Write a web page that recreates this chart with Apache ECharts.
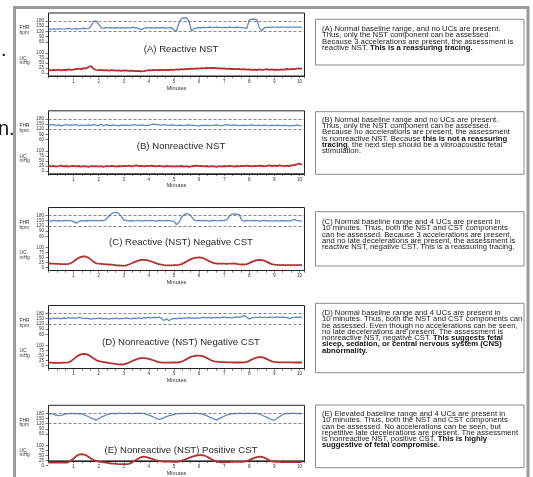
<!DOCTYPE html>
<html><head><meta charset="utf-8">
<script src="https://cdn.jsdelivr.net/npm/echarts@6/dist/echarts.min.js"></script>
<style>html,body{margin:0;padding:0;background:#fff}#c{width:533px;height:477px}</style>
</head><body><div id="c"></div>
<script>
// ---------- DATA ----------
const sampleStepMinutes = 0.1;
const minuteLabels = [1,2,3,4,5,6,7,8,9,10];
const fhrTicks = [60,90,120,150,180,200];
const fhrNormalLines = [180,120];
const ucTicks = [0,25,50,75,100];

const chartTitles = ['(A) Reactive NST','(B) Nonreactive NST','(C) Reactive (NST) Negative CST','(D) Nonreactive (NST) Negative CST','(E) Nonreactive (NST) Positive CST'];

const fhrA = [134,132,135,133,136,134,133,135,137,134, 133,136,134,135,138,136,137,152,178,180, 162,140,139,141,140,142,139,141,140,141, 139,142,140,141,143,140,136,130,137,141, 140,142,139,141,140,142,141,139,140,141, 128,122,170,195,198,197,176,122,134,140, 142,141,143,142,144,143,142,144,143,142, 143,142,144,143,142,144,143,142,140,136, 186,190,190,188,140,124,141,143,144,143, 144,144,143,144,144,143,144,144,143,144, 144,143];
const ucA = [15,13,16,14,17,13,16,15,18,16, 17,20,22,19,24,22,30,34,20,16, 14,15,13,14,12,14,13,12,13,11, 13,12,11,12,10,9,10,8,9,12, 14,13,15,14,16,15,14,16,15,17, 16,18,17,19,18,20,21,22,21,23, 22,24,23,25,24,26,25,23,24,22, 23,21,22,20,21,19,20,18,19,17, 18,16,17,15,18,16,17,19,16,18, 15,17,16,18,17,20,18,21,19,22, 23,21];

const fhrB = [146,143,148,141,145,139,144,147,142,145, 143,146,141,144,140,143,145,142,146,143, 141,150,138,147,143,140,145,142,139,144, 142,145,141,143,146,144,142,145,143,141, 144,146,149,147,145,143,146,144,142,145, 143,141,144,142,140,143,145,142,144,141, 138,143,141,144,142,140,143,145,142,141, 143,146,144,142,145,143,140,142,144,141, 143,145,142,140,143,141,144,142,139,143, 141,144,142,140,143,141,138,142,140,143, 141,139];
const ucB = [24,22,25,21,23,26,22,24,21,23, 25,22,24,21,23,22,20,24,22,23, 21,23,20,24,22,25,23,21,24,22, 25,23,26,22,24,27,23,25,22,24, 23,26,24,22,25,23,21,24,22,23, 21,23,22,24,21,23,20,22,24,26, 23,25,22,24,21,23,22,20,23,21, 24,22,25,23,21,24,22,25,23,26, 24,22,25,23,26,24,22,25,27,24, 26,24,27,25,23,26,24,27,29,32, 36,30];

const fhrC = [150,148,152,149,151,147,150,152,149,151, 146,136,144,150,148,151,149,152,150,151, 149,152,150,158,175,190,196,197,192,175, 155,150,148,151,149,150,152,148,150,151, 149,152,150,148,151,150,149,152,150,148, 148,128,140,170,185,191,188,172,155,150, 152,149,151,150,148,151,152,149,150,151, 150,155,175,187,189,188,185,152,148,151, 150,149,151,150,148,150,151,149,150,148, 149,150,148,151,149,150,148,153,156,150, 149,148];
const ucC = [20,19,19,18,18,17,17,17,18,22, 30,40,48,53,55,54,48,38,28,21, 19,18,17,16,15,14,13,11,10,9, 9,11,15,20,26,31,35,38,38,37, 34,30,26,21,17,14,12,11,11,11, 12,12,13,17,23,30,37,43,47,49, 50,49,45,39,32,26,22,20,19,19, 19,18,19,19,20,18,16,15,15,17, 22,28,33,37,38,37,34,28,22,17, 14,13,12,12,12,12,12,12,12,12, 12,12];

const fhrD = [152,148,155,150,153,149,154,151,156,153, 155,152,157,154,150,153,151,148,152,150, 153,151,149,152,148,151,150,153,149,152, 150,154,152,149,153,151,155,152,156,154, 157,155,158,156,159,153,140,150,138,148, 152,149,153,151,155,153,156,154,152,155, 153,156,158,155,157,154,156,158,155,157, 159,156,158,155,157,160,158,162,168,158, 148,155,158,157,159,156,158,157,159,157, 158,160,157,159,158,156,150,156,158,159, 158,159];
const ucD = [14,14,13,13,13,13,14,14,16,22, 32,42,51,56,58,57,52,44,35,27, 22,19,17,15,13,11,9,7,6,5, 6,9,14,20,26,31,35,37,37,36, 33,29,25,21,17,15,14,14,14,15, 15,15,16,19,25,32,39,44,47,49, 49,48,44,38,31,25,21,19,18,17, 17,16,16,16,15,15,15,15,16,18, 23,30,36,40,42,42,38,32,26,21, 18,17,16,16,16,16,16,16,15,15, 15,15];

const fhrE = [178,177,174,170,167,168,172,176,178,179, 178,179,177,178,173,166,160,153,146,140, 150,158,164,170,175,178,179,178,180,179, 178,179,180,178,179,180,179,180,178,174, 169,163,157,151,145,148,155,161,166,170, 173,176,178,179,178,180,179,178,180,179, 178,177,172,166,159,152,146,142,149,156, 163,169,174,177,179,178,180,179,178,180, 179,178,180,179,176,170,163,156,149,143, 141,150,160,170,177,179,178,180,179,178, 179,178];
const ucE = [13,13,13,13,13,13,13,14,16,24, 34,45,53,56,55,50,42,33,26,22, 19,17,15,13,11,9,8,7,6,6, 6,6,7,12,20,28,35,41,43,41, 37,33,29,25,22,20,19,18,18,17, 17,17,18,22,27,32,37,42,46,49, 51,51,49,44,37,30,24,19,16,15, 15,16,16,17,17,17,17,17,18,21, 26,32,37,41,43,42,38,32,25,20, 18,17,17,16,16,16,16,16,16,16, 16,16];

const notesA = '(A) Normal baseline range, and no UCs are present.\nThus, only the NST component can be assessed.\nBecause 3 accelerations are present, the assessment is\nreactive NST. {b|This is a reassuring tracing.}';
const notesB = '(B) Normal baseline range and no UCs are present.\nThus, only the NST component can be assessed.\nBecause no accelerations are present, the assessment\nis nonreactive NST. Because {b|this is not a reassuring}\n{b|tracing}, the next step should be a vibroacoustic fetal\nstimulation.';
const notesC = '(C) Normal baseline range and 4 UCs are present in\n10 minutes. Thus, both the NST and CST components\ncan be assessed. Because 3 accelerations are present,\nand no late decelerations are present, the assessment is\nreactive NST, negative CST. This is a reassuring tracing.';
const notesD = '(D) Normal baseline range and 4 UCs are present in\n10 minutes. Thus, both the NST and CST components can\nbe assessed. Even though no accelerations can be seen,\nno late decelerations are present. The assessment is\nnonreactive NST, negative CST. {b|This suggests fetal}\n{b|sleep, sedation, or central nervous system (CNS)}\n{b|abnormality.}';
const notesE = '(E) Elevated baseline range and 4 UCs are present in\n10 minutes. Thus, both the NST and CST components\ncan be assessed. No accelerations can be seen, but\nrepetitive late decelerations are present. The assessment\nis nonreactive NST, positive CST. {b|This is highly}\n{b|suggestive of fetal compromise.}';

// ---------- LAYOUT ----------
const FONT = '"Liberation Sans", Arial, Helvetica, sans-serif';
const fhrSets = [fhrA, fhrB, fhrC, fhrD, fhrE];
const ucSets = [ucA, ucB, ucC, ucD, ucE];
const noteSets = [notesA, notesB, notesC, notesD, notesE];
const panelTops = [13, 110.8, 207.5, 305.5, 405.3];
const titleY = [49, 146.7, 242.3, 342.3, 450];
const boxes = [[19.3,45.7,29.3],[111.7,62.6,120],[211.7,54.3,222.3],[303.3,69.4,313.3],[405,62.7,414.3]];
const PL = 48.5, PW = 256, XMAX = 10.2;
const BLUE = '#5d8ac4', RED = '#b3312f', INK = '#222';
const LH = 6.25, NFS = 6.9, NSX = 1.12;

function toPairs(arr){ return arr.map((v,i)=>[+(i*sampleStepMinutes).toFixed(2), v]); }

const grid=[], xAxis=[], yAxis=[], series=[], graphic=[];

graphic.push({type:'rect', shape:{x:14.5,y:7.5,width:513.5,height:480}, style:{fill:'none', stroke:'#9b9b9b', lineWidth:3}, z:100});
graphic.push({type:'text', x:1, y:50, style:{text:'.', fontSize:20, fontFamily:FONT, fill:'#111', verticalAlign:'middle', textVerticalAlign:'middle'}});
graphic.push({type:'text', x:-2, y:129, style:{text:'n.', fontSize:20, fontFamily:FONT, fill:'#111', verticalAlign:'middle', textVerticalAlign:'middle'}});

const smallAxisLabel = {fontSize:4.6, color:'#333', fontFamily:FONT};
const tickLine = {color:INK, width:0.6};

panelTops.forEach((t,k)=>{
  const g0 = k*3;
  grid.push({left:PL, top:t, width:PW, height:63, show:true, borderColor:INK, borderWidth:1, backgroundColor:'transparent'});
  xAxis.push({gridIndex:g0, type:'value', min:0, max:XMAX, interval:1,
    axisLine:{show:true, lineStyle:{color:INK, width:1}},
    axisTick:{show:true, length:2.2, lineStyle:tickLine},
    minorTick:{show:true, splitNumber:3, length:2.2, lineStyle:tickLine},
    splitLine:{show:false}, minorSplitLine:{show:false},
    axisLabel:Object.assign({margin:3.2, customValues:minuteLabels}, smallAxisLabel),
    name:'Minutes', nameLocation:'middle', nameGap:8, nameTextStyle:{fontSize:5.6, color:'#333', fontFamily:FONT}});
  yAxis.push({gridIndex:g0, type:'value', min:0, max:1, show:false});
  grid.push({left:PL, top:t+4.5, width:PW, height:24.3});
  xAxis.push({gridIndex:g0+1, type:'value', min:0, max:XMAX, show:false});
  yAxis.push({gridIndex:g0+1, type:'value', min:60, max:200,
    axisLine:{show:false}, splitLine:{show:false},
    axisTick:{show:true, length:3, customValues:fhrTicks, lineStyle:tickLine},
    axisLabel:Object.assign({margin:4.5, customValues:fhrTicks}, smallAxisLabel)});
  grid.push({left:PL, top:t+40, width:PW, height:20});
  xAxis.push({gridIndex:g0+2, type:'value', min:0, max:XMAX, show:false});
  yAxis.push({gridIndex:g0+2, type:'value', min:0, max:100, interval:25,
    axisLine:{show:false}, splitLine:{show:false},
    axisTick:{show:true, length:3, lineStyle:tickLine},
    axisLabel:Object.assign({margin:4.5}, smallAxisLabel)});

  series.push({type:'line', xAxisIndex:g0+1, yAxisIndex:g0+1, data:toPairs(fhrSets[k]), showSymbol:false, symbol:'none',
    lineStyle:{color:BLUE, width:1.3}, z:3,
    markLine:{silent:true, symbol:'none', label:{show:false},
      lineStyle:{type:[3,2], color:'#666', width:0.8},
      data:fhrNormalLines.map(v=>({yAxis:v}))}});
  series.push({type:'line', xAxisIndex:g0+2, yAxisIndex:g0+2, data:toPairs(ucSets[k]), showSymbol:false, symbol:'none',
    lineStyle:{color:RED, width:1.8}, z:3});

  [['FHR',t+15],['bpm',t+19.7],['UC',t+45.5],['mHg',t+49.8]].forEach(([s,y])=>{
    graphic.push({type:'text', x:19.5, y:y, style:{text:s, fontSize:4.9, fontFamily:FONT, fill:'#333', verticalAlign:'middle', textVerticalAlign:'middle'}});
  });
  graphic.push({type:'text', x:181, y:titleY[k], style:{text:chartTitles[k], fontSize:9.6, fontFamily:FONT, fill:'#2a2a2a', align:'center', textAlign:'center', verticalAlign:'middle', textVerticalAlign:'middle'}});
  const b = boxes[k];
  graphic.push({type:'rect', shape:{x:315.5, y:b[0], width:208.5, height:b[1]}, style:{fill:'#fff', stroke:'#8a8a8a', lineWidth:1}});
  graphic.push({type:'text', x:322, y:b[2]-LH/2, scaleX:NSX, style:{text:noteSets[k], fontSize:NFS, fontFamily:FONT, fill:'#222', lineHeight:LH,
    verticalAlign:'top', textVerticalAlign:'top',
    rich:{b:{fontSize:NFS, fontFamily:FONT, fontWeight:'bold', fill:'#111', lineHeight:LH}}}});
});

const chart = echarts.init(document.getElementById('c'), null, {renderer:'canvas'});
chart.setOption({animation:false, backgroundColor:'#fff', grid, xAxis, yAxis, series, graphic});
</script></body></html>
